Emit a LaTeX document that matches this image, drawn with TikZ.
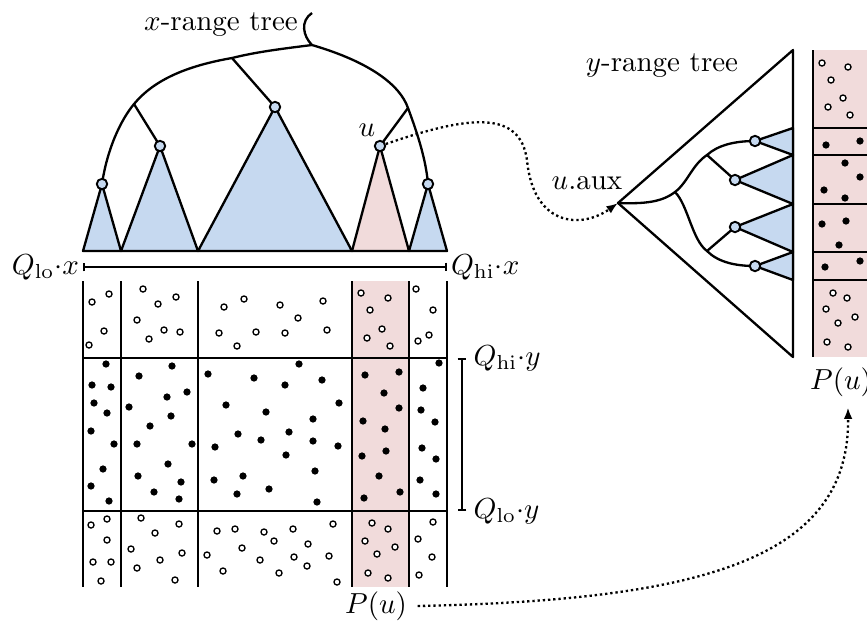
\documentclass[tikz,border=0pt]{standalone}
\usepackage{amsmath,amssymb}
\usetikzlibrary{arrows.meta,positioning}

\definecolor{treeblue}{RGB}{198,217,240}
\definecolor{auxpink}{RGB}{241,219,219}
\tikzset{
  tnode/.style={circle,draw,fill=treeblue,line width=0.65pt,inner sep=0pt,minimum size=3.6pt},
  subtree/.style={draw,fill=treeblue,line join=round},
  hitree/.style={draw,fill=auxpink,line join=round},
  gridline/.style={line width=0.7pt},
  ptr/.style={line width=0.8pt,densely dotted,-{Latex[length=4pt,width=3pt]}},
  qbar/.style={line width=0.65pt,{Bar[width=3pt]}-{Bar[width=3pt]}}
}

\begin{document}
\begin{tikzpicture}[x=0.345pt, y=-0.345pt, line width=0.8pt, >=Latex]
\useasboundingbox (0,0) rectangle (867,624);
\clip (0,0) rectangle (867,624);
% x-range tree: points
\coordinate (xroot) at (312,45);
\coordinate (bl) at (232,58);
\coordinate (bll) at (134,104);
\coordinate (br) at (408,108);
\coordinate (s1) at (102,184);
\coordinate (s2) at (160,146);
\coordinate (s3) at (275,107);
\coordinate (s5) at (428,184);
\coordinate (su) at (380,146);
% subtrees
\path[subtree] (83,251) -- (s1) -- (121,251) -- cycle;
\path[subtree] (121,251) -- (s2) -- (198,251) -- cycle;
\path[subtree] (198,251) -- (s3) -- (352,251) -- cycle;
\path[hitree] (352,251) -- (su) -- (409,251) -- cycle;
\path[subtree] (409,251) -- (s5) -- (447,251) -- cycle;
% tree edges
\draw (xroot) .. controls (303,36) and (300,21) .. (312,13);
\draw (xroot) .. controls (280,49) and (256,52) .. (bl)
  .. controls (186,66) and (154,80) .. (bll)
  .. controls (120,121) and (107,150) .. (s1);
\draw (xroot) .. controls (370,62) and (400,85) .. (br)
  .. controls (418,135) and (426,160) .. (s5);
\draw (bl) -- (s3) (bll) -- (s2) (br) -- (su);
\foreach \n in {s1,s2,s3,s5} \node[tnode] (n\n) at (\n) {};
\node[tnode] (u) at (su) {};
\node (xlabel) at (221,25) {$x$-range tree};
\node (ulabel) at (367,130) {$u$};
% x-range
\coordinate (xlo) at (83,267);
\coordinate (xhi) at (447,267);
\draw[qbar] (xlo) -- (xhi);
\node[anchor=east,inner sep=1pt] (qlox) at (xlo) {$Q_{\mathrm{lo}}{\cdot}x$};
\node[anchor=west,inner sep=1pt] (qhix) at (xhi) {$Q_{\mathrm{hi}}{\cdot}x$};
% point grid
\fill[auxpink] (352,281) rectangle (409,587);
\foreach \x in {83,121,198,352,409,447} \draw[gridline] (\x,281) -- (\x,587);
\draw[gridline] (83,358) -- (447,358) (83,511) -- (447,511);
\foreach \p in {(92,302),(109,294),(104,331),(89,345),
  (143,289),(158,304),(176,297),(137,320),(164,330),(180,332),(149,339),
  (224,307),(244,299),(280,305),(323,301),(298,318),(219,333),(256,332),(285,333),(327,330),(237,346),
  (361,293),(388,298),(370,310),(382,329),(367,338),(390,346),
  (416,289),(433,310),(429,335),(418,341),
  (91,525),(107,519),(107,540),(93,562),(111,562),(101,581),
  (141,518),(179,524),(155,533),(131,549),(182,553),(160,560),(137,568),(175,580),
  (217,531),(235,529),(264,532),(293,529),(333,524),(274,541),(242,548),(308,544),
  (207,555),(260,560),(294,557),(329,556),(307,566),(223,571),(279,573),(337,582),
  (372,523),(388,529),(365,541),(395,547),(377,554),(368,573),(388,578),
  (433,522),(418,539),(432,557),(419,575)}
  \draw[line width=0.45pt,fill=white] \p circle (1.05pt);
\foreach \p in {(106,364),(92,385),(111,387),(94,403),(107,413),(91,431),(114,444),(103,469),(91,486),(109,501),
  (172,366),(139,376),(187,392),(167,397),(129,407),(171,416),(150,426),(137,444),(192,444),(168,464),(138,476),(181,482),(154,492),(179,499),
  (208,374),(254,378),(299,364),(285,385),(322,380),(226,405),(339,403),(266,412),(313,419),(238,434),(289,432),
  (261,440),(313,441),(215,447),(338,446),(286,455),(315,471),(243,476),(214,480),(269,489),(237,494),(317,502),
  (365,375),(399,372),(384,393),(399,408),(363,421),(385,429),(386,451),(362,456),(379,476),(400,492),(364,498),
  (439,363),(423,388),(421,410),(435,422),(422,448),(436,459),(420,480),(436,494)}
  \fill \p circle (1.25pt);
% y-range
\coordinate (qtop) at (462,358);
\coordinate (qbot) at (462,511);
\draw[qbar] (qtop) -- (qbot);
\node[anchor=west,inner sep=1pt,xshift=2.6pt] (qhiy) at (qtop) {$Q_{\mathrm{hi}}{\cdot}y$};
\node[anchor=west,inner sep=1pt,xshift=2.6pt] (qloy) at (qbot) {$Q_{\mathrm{lo}}{\cdot}y$};
\node (Pu) at (376,606) {$P(u)$};
% y-range tree of u
\coordinate (yroot) at (618,203);
\coordinate (ym) at (675,192);
\coordinate (yu) at (707,155);
\coordinate (yd) at (707,251);
\coordinate (t1) at (755,141);
\coordinate (t2) at (735,180);
\coordinate (t3) at (735,227);
\coordinate (t4) at (755,266);
\draw[line join=round] (yroot) -- (793,50) -- (793,357) -- cycle;
\path[subtree] (t1) -- (793,128) -- (793,155) -- cycle;
\path[subtree] (t2) -- (793,155) -- (793,204) -- cycle;
\path[subtree] (t3) -- (793,204) -- (793,252) -- cycle;
\path[subtree] (t4) -- (793,252) -- (793,280) -- cycle;
\draw (yroot) .. controls (645,204) and (662,202) .. (ym)
  .. controls (688,182) and (692,165) .. (yu)
  .. controls (718,145) and (735,141) .. (t1);
\draw (ym) .. controls (688,205) and (692,240) .. (yd)
  .. controls (718,262) and (735,266) .. (t4);
\draw (yu) -- (t2) (yd) -- (t3);
\foreach \n in {t1,t2,t3,t4} \node[tnode] (n\n) at (\n) {};
\node (ylabel) at (662,66) {$y$-range tree};
\node (uaux) at (587,183) {$u$.aux};
% P(u) sorted by y
\fill[auxpink] (813,50) rectangle (890,357);
\draw[gridline] (813,50) -- (813,357);
\foreach \y in {128,155,204,252,280} \draw[gridline] (813,\y) -- (890,\y);
\foreach \p in {(822,63),(848,67),(831,80),(843,98),(828,107),(850,115),
  (833,293),(847,298),(826,309),(855,317),(838,323),(827,342),(848,347)}
  \draw[line width=0.45pt,fill=white] \p circle (1.05pt);
\foreach \p in {(826,145),(860,141),(845,163),(860,177),(824,190),(845,198),
  (822,224),(846,221),(839,245),(825,267),(860,261)}
  \fill \p circle (1.25pt);
\node (Pur) at (841,382) {$P(u)$};
% pointers
\draw[ptr] (u) .. controls (470,115) and (520,110) .. (527,160)
  .. controls (533,225) and (580,230) .. (yroot);
\draw[ptr] (Pu.east) .. controls (700,600) and (850,560) .. ([xshift=2.4pt]Pur.south);
\end{tikzpicture}
\end{document}
